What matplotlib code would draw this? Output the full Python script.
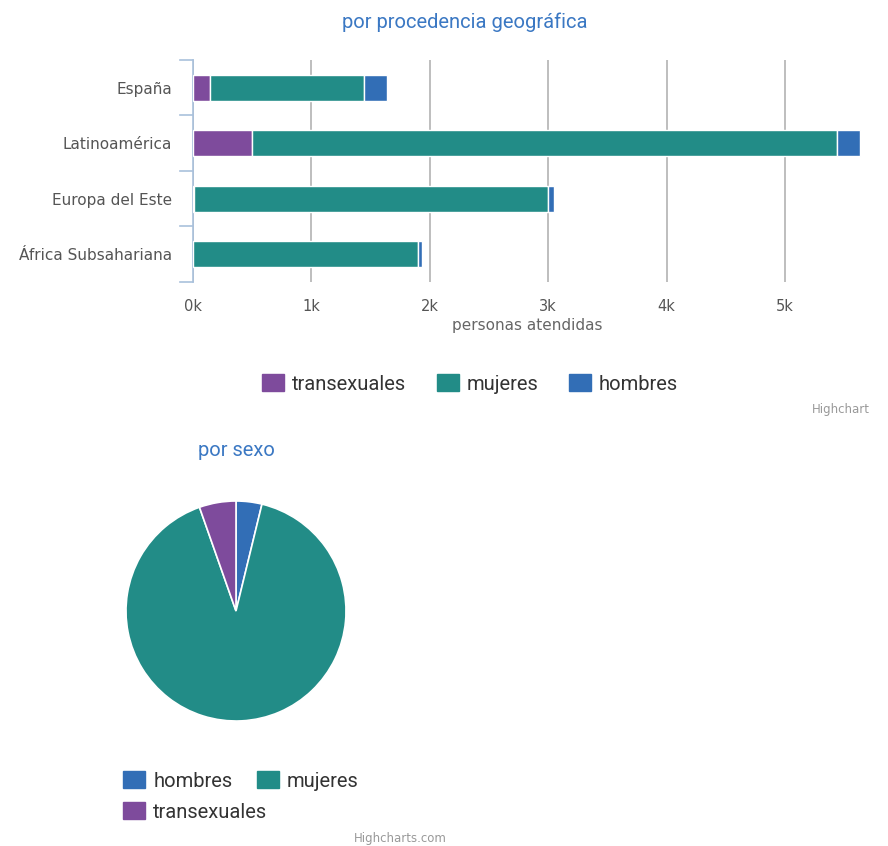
import matplotlib
matplotlib.use("Agg")
import matplotlib.pyplot as plt
from matplotlib.patches import Patch
from matplotlib.ticker import FuncFormatter, MultipleLocator

# --- data -------------------------------------------------------------
regions = ["España", "Latinoamérica", "Europa del Este", "África Subsahariana"]
transexuales = [145, 500, 12, 3]
mujeres = [1295, 4940, 2990, 1900]
hombres = [200, 190, 45, 30]

pie_labels = ["hombres", "mujeres", "transexuales"]
pie_values = [465, 11125, 660]

C_TRANS = "#7e4b9c"
C_MUJ = "#228c87"
C_HOM = "#326eb6"
C_TITLE = "#3b78c3"
C_AXIS = "#a9c1dc"
FONT = "Roboto"

W, H = 888, 846
fig = plt.figure(figsize=(W / 100, H / 100), dpi=100)


def px_axes(x0, y0, x1, y1):
    """Axes from pixel box (top-left origin)."""
    return fig.add_axes([x0 / W, 1 - y1 / H, (x1 - x0) / W, (y1 - y0) / H])


# --- stacked bars -----------------------------------------------------
ax = px_axes(193, 60, 862, 282)
ypos = list(range(len(regions)))
bh = 0.46
kw = dict(height=bh, edgecolor="white", linewidth=1, zorder=3)
ax.barh(ypos, transexuales, color=C_TRANS, **kw)
left2 = transexuales
ax.barh(ypos, mujeres, left=left2, color=C_MUJ, **kw)
left3 = [a + b for a, b in zip(transexuales, mujeres)]
ax.barh(ypos, hombres, left=left3, color=C_HOM, **kw)

ax.set_ylim(len(regions) - 0.5, -0.5)
ax.set_xlim(0, 5650)
ax.xaxis.set_major_locator(MultipleLocator(1000))
ax.xaxis.set_major_formatter(FuncFormatter(lambda v, p: f"{int(v // 1000)}k"))
ax.grid(axis="x", color="#b3b3b3", linewidth=1.2, zorder=0)
for s in ["top", "right", "bottom"]:
    ax.spines[s].set_visible(False)
ax.spines["left"].set_color(C_AXIS)
ax.spines["left"].set_linewidth(1.2)
ax.set_yticks(ypos)
ax.set_yticklabels(regions, fontsize=11, color="#555555")
ax.tick_params(axis="y", length=0, pad=15)
# boundary ticks on category axis
for b in [i - 0.5 for i in range(len(regions) + 1)]:
    ax.plot([-0.019, 0], [b, b], transform=ax.get_yaxis_transform(),
            color=C_AXIS, lw=1.2, clip_on=False)
ax.tick_params(axis="x", length=0, labelsize=10.5, labelcolor="#555555", pad=12)
ax.set_xlabel("personas atendidas", fontsize=11, color="#666666", labelpad=3)

fig.text(465 / W, 1 - 22 / H, "por procedencia geográfica", ha="center",
         va="center", fontsize=14.5, color=C_TITLE, family=FONT)

leg_prop = {"family": FONT, "size": 14.5}
leg_kw = dict(frameon=False, prop=leg_prop, handlelength=1.1,
              handleheight=0.85, handletextpad=0.4, borderpad=0,
              borderaxespad=0, labelcolor="#333333")
handles = [Patch(color=C_TRANS, label="transexuales"),
           Patch(color=C_MUJ, label="mujeres"),
           Patch(color=C_HOM, label="hombres")]
fig.legend(handles=handles, loc="center", bbox_to_anchor=(470 / W, 1 - 384 / H),
           ncol=3, columnspacing=1.5, **leg_kw)
fig.text(870 / W, 1 - 409 / H, "Highchart", ha="right", va="center",
         fontsize=8.5, color="#999999")

# --- pie --------------------------------------------------------------
pax = px_axes(126, 501, 346, 721)
pax.pie(pie_values, colors=[C_HOM, C_MUJ, C_TRANS], startangle=90,
        counterclock=False, radius=1,
        wedgeprops=dict(edgecolor="white", linewidth=1.2))
pax.set_xlim(-1, 1)
pax.set_ylim(-1, 1)
pax.set_aspect("equal")

fig.text(236 / W, 1 - 450 / H, "por sexo", ha="center", va="center",
         fontsize=14.5, color=C_TITLE, family=FONT)

# legend wraps like Highcharts: two items on the first row, one below
row1 = [Patch(color=C_HOM, label="hombres"), Patch(color=C_MUJ, label="mujeres")]
row2 = [Patch(color=C_TRANS, label="transexuales")]
fig.legend(handles=row1, loc="center left",
           bbox_to_anchor=(123 / W, 1 - 781 / H), ncol=2,
           columnspacing=1.2, **leg_kw)
fig.legend(handles=row2, loc="center left",
           bbox_to_anchor=(123 / W, 1 - 812 / H), **leg_kw)
fig.text(400 / W, 1 - 838 / H, "Highcharts.com", ha="center", va="center",
         fontsize=8.5, color="#999999")

fig.savefig("out.png", dpi=100, facecolor="white")
